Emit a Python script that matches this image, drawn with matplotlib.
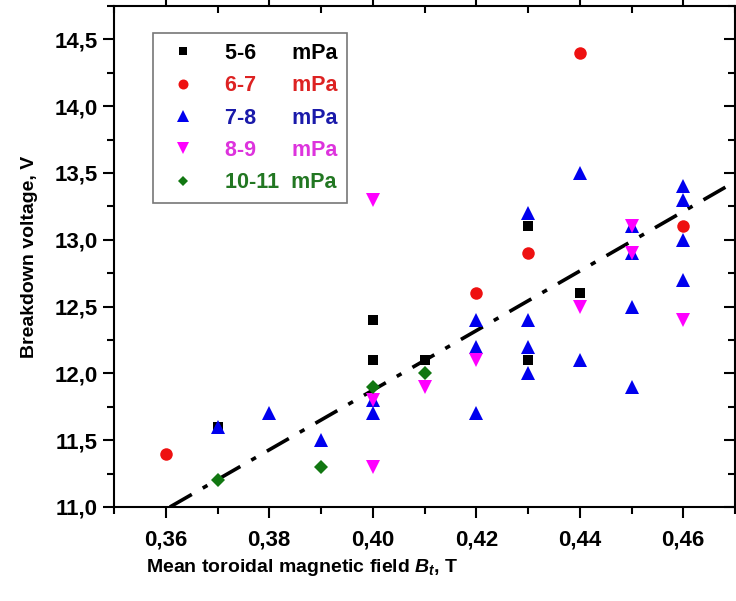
import matplotlib
matplotlib.use('Agg')
import numpy as np
import matplotlib.pyplot as plt
from matplotlib.ticker import MultipleLocator, FuncFormatter

# series: field B_t (T) and breakdown voltage (V)
x_56 = [0.37, 0.40, 0.40, 0.41, 0.43, 0.43, 0.44]
y_56 = [11.6, 12.4, 12.1, 12.1, 13.1, 12.1, 12.6]

x_67 = [0.36, 0.42, 0.43, 0.44, 0.46]
y_67 = [11.4, 12.6, 12.9, 14.4, 13.1]

x_78 = [0.37, 0.38, 0.39, 0.40, 0.40, 0.42, 0.42, 0.42, 0.43, 0.43, 0.43,
        0.43, 0.44, 0.44, 0.45, 0.45, 0.45, 0.45, 0.46, 0.46, 0.46, 0.46]
y_78 = [11.6, 11.7, 11.5, 11.7, 11.8, 12.4, 12.2, 11.7, 13.2, 12.4, 12.2,
        12.0, 13.5, 12.1, 13.1, 12.9, 12.5, 11.9, 13.4, 13.3, 13.0, 12.7]

x_89 = [0.40, 0.40, 0.40, 0.41, 0.42, 0.44, 0.45, 0.45, 0.46]
y_89 = [13.3, 11.8, 11.3, 11.9, 12.1, 12.5, 13.1, 12.9, 12.4]

x_1011 = [0.37, 0.39, 0.40, 0.41]
y_1011 = [11.2, 11.3, 11.9, 12.0]

# linear fit line (slope, intercept) and its x range
fit_slope = 22.3
fit_icpt = 2.954
fit_x = [0.3608, 0.47]

plt.rcParams['font.family'] = ['Liberation Sans', 'DejaVu Sans']
plt.rcParams['font.weight'] = 'bold'
plt.rcParams['mathtext.fontset'] = 'custom'
plt.rcParams['mathtext.it'] = 'Liberation Sans:italic:bold'
plt.rcParams['mathtext.rm'] = 'Liberation Sans:bold'

fig = plt.figure(figsize=(7.36, 6.01), dpi=100)
ax = fig.add_axes([114/736, 94/601, 621/736, 501/601])

fx = np.array(fit_x)
ax.plot(fx, fit_slope*fx + fit_icpt, color='black', lw=2.6,
        dashes=(7, 3.5, 1.5, 3.5), zorder=1)

ax.plot(x_56, y_56, 's', color='black', ms=7, mew=0, label='5-6      mPa', zorder=3)
ax.plot(x_67, y_67, 'o', color='#ee1111', ms=9, mew=0, label='6-7      mPa', zorder=3)
ax.plot(x_78, y_78, '^', color='#0000ee', ms=10.5, mew=0, label='7-8      mPa', zorder=3)
ax.plot(x_89, y_89, 'v', color='#ff00ff', ms=10.5, mew=0, label='8-9      mPa', zorder=3)
ax.plot(x_1011, y_1011, 'D', color='#117711', ms=7, mew=0, label='10-11  mPa', zorder=3)

ax.set_xlim(0.35, 0.47)
ax.set_ylim(11.0, 14.75)
ax.xaxis.set_major_locator(MultipleLocator(0.02))
ax.xaxis.set_minor_locator(MultipleLocator(0.01))
ax.yaxis.set_major_locator(MultipleLocator(0.5))
ax.yaxis.set_minor_locator(MultipleLocator(0.25))
ax.xaxis.set_major_formatter(FuncFormatter(lambda v, p: ('%.2f' % v).replace('.', ',')))
ax.yaxis.set_major_formatter(FuncFormatter(lambda v, p: ('%.1f' % v).replace('.', ',')))

for s in ax.spines.values():
    s.set_linewidth(1.5)
ax.tick_params(which='major', direction='out', length=8, width=1.5, labelsize=16)
ax.tick_params(which='minor', direction='out', length=5, width=1.5)
ax.tick_params(which='both', top=True, right=True)
for t in ax.xaxis.get_major_ticks() + ax.xaxis.get_minor_ticks():
    t.tick2line.set_marker(3)
for t in ax.yaxis.get_major_ticks() + ax.yaxis.get_minor_ticks():
    t.tick2line.set_marker(0)
ax.tick_params(axis='x', which='major', pad=8)

ax.set_xlabel(r'Mean toroidal magnetic field $B_t$, T', fontsize=14,
              fontweight='bold', labelpad=8)
ax.xaxis.set_label_coords(0.303, -0.1)
ax.set_ylabel('Breakdown voltage, V', fontsize=14, fontweight='bold', labelpad=12)

leg = ax.legend(loc='upper left', bbox_to_anchor=(0.063, 0.946), fontsize=15.5,
                frameon=True, fancybox=False, edgecolor='#555555',
                borderpad=0.45, handletextpad=1.0, labelspacing=0.53,
                markerscale=0.8, borderaxespad=0, handlelength=1.9)
leg.get_frame().set_linewidth(1.2)
for txt, c in zip(leg.get_texts(), ['black', '#dd2222', '#1a1aaa', '#dd33dd', '#227722']):
    txt.set_color(c)

fig.savefig('out.png', dpi=100)
